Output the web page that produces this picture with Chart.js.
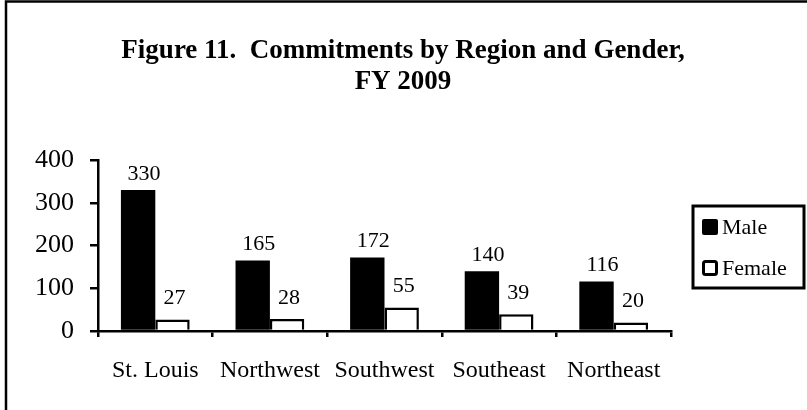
<!DOCTYPE html>
<html>
<head>
<meta charset="utf-8">
<script src="https://cdn.jsdelivr.net/npm/chart.js@4/dist/chart.umd.min.js"></script>
<style>
html,body{margin:0;padding:0;background:#fff;}
#wrap{width:807px;height:410px;position:relative;}
</style>
</head>
<body>
<div id="wrap"><canvas id="c" width="807" height="410"></canvas></div>
<script>
const categories = ["St. Louis", "Northwest", "Southwest", "Southeast", "Northeast"];
const maleValues = [330, 165, 172, 140, 116];
const femaleValues = [27, 28, 55, 39, 20];
const yTicks = [0, 100, 200, 300, 400];
const titleLines = ["Figure 11.  Commitments by Region and Gender,", "FY 2009"];
const seriesNames = ["Male", "Female"];

const SERIF = "'Liberation Serif', 'Times New Roman', serif";

const decorPlugin = {
  id: 'decor',
  beforeDraw(chart) {
    const ctx = chart.ctx;
    ctx.save();
    ctx.fillStyle = '#fff';
    ctx.fillRect(0, 0, chart.width, chart.height);
    ctx.strokeStyle = '#000';
    ctx.lineWidth = 2.5;
    ctx.strokeRect(6, 1.5, chart.width + 20, chart.height + 20);
    ctx.restore();
  },
  afterDraw(chart) {
    const ctx = chart.ctx;
    ctx.save();
    ctx.fillStyle = '#000';
    ctx.font = "bold 27px " + SERIF;
    ctx.textAlign = 'center';
    ctx.textBaseline = 'alphabetic';
    ctx.fillText(titleLines[0], 403, 58);
    ctx.fillText(titleLines[1], 403, 89);

    ctx.font = "22px " + SERIF;
    ctx.textAlign = 'center';
    ctx.textBaseline = 'alphabetic';
    const offs = [{dx: 6, dy: 10}, {dx: 2, dy: 15}];
    chart.data.datasets.forEach((ds, i) => {
      const meta = chart.getDatasetMeta(i);
      meta.data.forEach((bar, j) => {
        ctx.fillText(String(ds.data[j]), bar.x + offs[i].dx, bar.y - offs[i].dy);
      });
    });

    const lx = 693, ly = 206, lw = 111, lh = 82;
    ctx.lineWidth = 3;
    ctx.strokeStyle = '#000';
    ctx.strokeRect(lx, ly, lw, lh);
    ctx.font = "22px " + SERIF;
    ctx.textAlign = 'left';
    ctx.textBaseline = 'middle';
    const rows = [227, 268];
    chart.data.datasets.forEach((ds, i) => {
      const cy = rows[i];
      if (i === 0) {
        ctx.fillStyle = '#000';
        ctx.beginPath();
        ctx.roundRect(702, cy - 8, 16, 16, 2);
        ctx.fill();
      } else {
        ctx.lineWidth = 3;
        ctx.strokeStyle = '#000';
        ctx.beginPath();
        ctx.roundRect(703.5, cy - 6.5, 13, 13, 2);
        ctx.stroke();
      }
      ctx.fillStyle = '#000';
      ctx.fillText(ds.label, 722, cy + 1);
    });
    ctx.restore();
  }
};

new Chart(document.getElementById('c'), {
  type: 'bar',
  data: {
    labels: categories,
    datasets: [
      { label: seriesNames[0], data: maleValues, backgroundColor: '#000', borderColor: '#000', borderWidth: 0 },
      { label: seriesNames[1], data: femaleValues, backgroundColor: '#fff', borderColor: '#000', borderWidth: 2.5 }
    ]
  },
  options: {
    responsive: false,
    animation: false,
    devicePixelRatio: 1,
    layout: { padding: { left: 0, right: 136, top: 160, bottom: 0 } },
    datasets: { bar: { categoryPercentage: 0.6, barPercentage: 1.0 } },
    plugins: {
      legend: { display: false },
      title: { display: false },
      tooltip: { enabled: false }
    },
    scales: {
      x: {
        grid: { display: true, drawOnChartArea: false, drawTicks: true, tickLength: 6, color: '#000', lineWidth: 2.5, offset: true },
        border: { display: true, color: '#000', width: 2.5 },
        ticks: { color: '#000', font: { family: SERIF, size: 24 }, padding: 19, maxRotation: 0, autoSkip: false },
        afterFit(scale) { scale.height = 79; }
      },
      y: {
        min: 0, max: 400,
        afterBuildTicks(scale) { scale.ticks = yTicks.map(v => ({ value: v })); },
        grid: { display: true, drawOnChartArea: false, drawTicks: true, tickLength: 8, color: '#000', lineWidth: 2.5 },
        border: { display: true, color: '#000', width: 2.5 },
        ticks: { color: '#000', font: { family: SERIF, size: 26 }, padding: 16 },
        afterFit(scale) { scale.width = 98; }
      }
    }
  },
  plugins: [decorPlugin]
});
</script>
</body>
</html>
